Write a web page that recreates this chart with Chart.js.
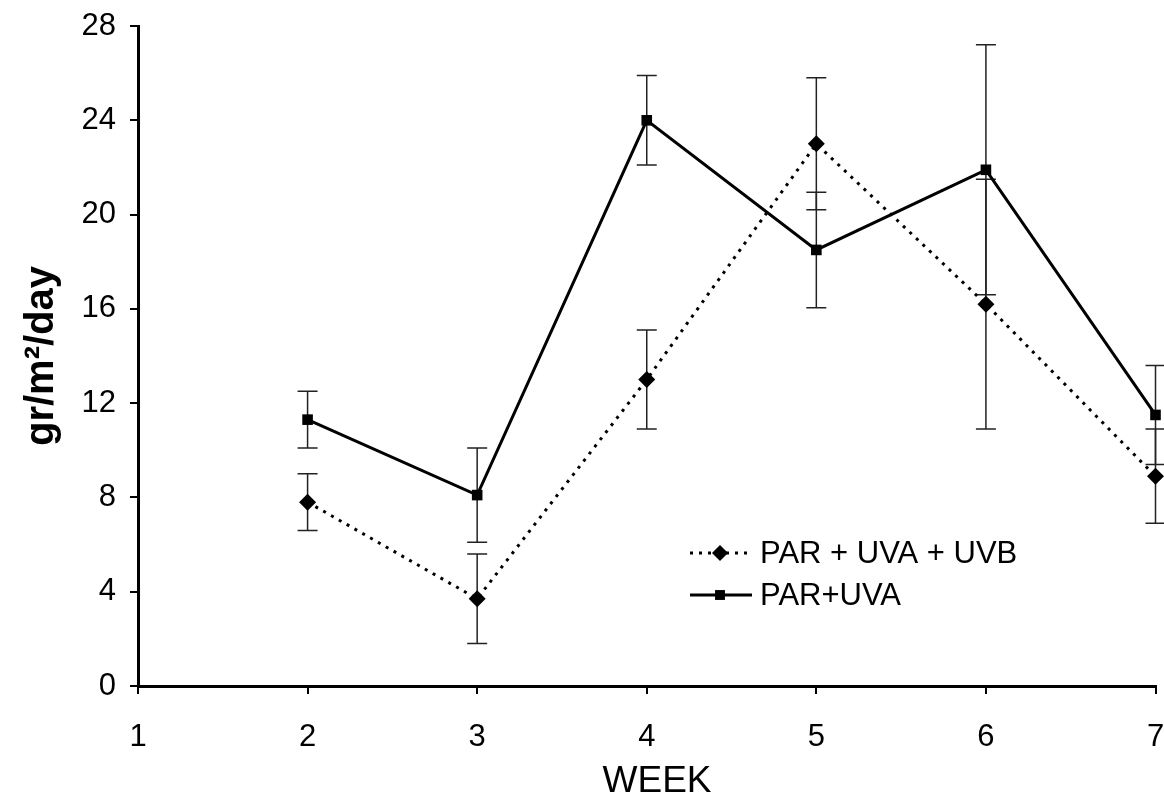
<!DOCTYPE html>
<html>
<head>
<meta charset="utf-8">
<script src="https://cdn.jsdelivr.net/npm/chart.js@4"></script>
<style>
html, body { margin: 0; padding: 0; background: #fff; }
</style>
</head>
<body>
<canvas id="myChart" width="1164" height="800"></canvas>
<script>
// weeks on the x axis
const weeks = [2, 3, 4, 5, 6, 7];
// PAR + UVA + UVB (dotted, diamonds)
const uvbMean = [7.8, 3.7, 13.0, 23.0, 16.2, 8.9];
const uvbErr = [1.2, 1.9, 2.1, 2.8, 5.3, 2.0];
// PAR+UVA (solid, squares)
const uvaMean = [11.3, 8.1, 24.0, 18.5, 21.9, 11.5];
const uvaErr = [1.2, 2.0, 1.9, 2.45, 5.3, 2.1];
const xTicks = [1, 2, 3, 4, 5, 6, 7];
const yTicks = [0, 4, 8, 12, 16, 20, 24, 28];

const toPoints = (m) => weeks.map((w, i) => ({ x: w, y: m[i] }));
const family = '"Liberation Sans", Arial, sans-serif';

/* error bars drawn through the scales */
const errorBars = {
  id: 'errorBars',
  beforeDatasetsDraw(chart) {
    const ctx = chart.ctx, xs = chart.scales.x, ys = chart.scales.y;
    ctx.save();
    ctx.strokeStyle = '#222';
    ctx.lineWidth = 1.5;
    [[uvbMean, uvbErr], [uvaMean, uvaErr]].forEach(([m, e]) => {
      weeks.forEach((w, i) => {
        const px = xs.getPixelForValue(w);
        const top = ys.getPixelForValue(m[i] + e[i]);
        const bot = ys.getPixelForValue(m[i] - e[i]);
        ctx.beginPath();
        ctx.moveTo(px, top); ctx.lineTo(px, bot);
        ctx.moveTo(px - 10, top); ctx.lineTo(px + 10, top);
        ctx.moveTo(px - 10, bot); ctx.lineTo(px + 10, bot);
        ctx.stroke();
      });
    });
    ctx.restore();
  }
};

/* legend sitting inside the plot */
const innerLegend = {
  id: 'innerLegend',
  afterDraw(chart) {
    const ctx = chart.ctx;
    const rows = [
      { text: 'PAR + UVA + UVB', dash: [3, 6], style: 'rectRot', r: 8, y: 553 },
      { text: 'PAR+UVA', dash: [], style: 'rect', r: 7, y: 595 }
    ];
    ctx.save();
    rows.forEach(row => {
      ctx.strokeStyle = '#000';
      ctx.lineWidth = 3;
      ctx.setLineDash(row.dash);
      ctx.beginPath();
      ctx.moveTo(690, row.y); ctx.lineTo(752, row.y);
      ctx.stroke();
      ctx.setLineDash([]);
      ctx.fillStyle = '#000';
      Chart.helpers.drawPoint(ctx, { pointStyle: row.style, radius: row.r, borderWidth: 0 }, 720, row.y);
      ctx.font = '31px ' + family;
      ctx.textBaseline = 'middle';
      ctx.textAlign = 'left';
      ctx.fillText(row.text, 760, row.y + 1);
    });
    ctx.restore();
  }
};

const tickFont = { family: family, size: 31 };

new Chart(document.getElementById('myChart'), {
  type: 'line',
  data: {
    datasets: [
      {
        label: 'PAR + UVA + UVB',
        data: toPoints(uvbMean),
        borderColor: '#000',
        backgroundColor: '#000',
        borderWidth: 3,
        borderDash: [3, 6],
        pointStyle: 'rectRot',
        pointRadius: 8.5,
        pointBorderWidth: 0,
        clip: false
      },
      {
        label: 'PAR+UVA',
        data: toPoints(uvaMean),
        borderColor: '#000',
        backgroundColor: '#000',
        borderWidth: 3,
        pointStyle: 'rect',
        pointRadius: 7.5,
        pointBorderWidth: 0,
        clip: false
      }
    ]
  },
  options: {
    responsive: false,
    animation: false,
    layout: { padding: { top: 26, right: 6, left: 0, bottom: 0 } },
    plugins: {
      legend: { display: false },
      tooltip: { enabled: false }
    },
    scales: {
      x: {
        type: 'linear',
        min: 1,
        max: 7,
        afterBuildTicks: (s) => { s.ticks = xTicks.map(v => ({ value: v })); },
        afterFit: (s) => { s.height = 114; s.paddingRight = 0; s.paddingLeft = 0; },
        ticks: { color: '#000', font: tickFont, padding: 25, maxRotation: 0 },
        grid: { drawOnChartArea: false, drawTicks: true, tickLength: 8, color: '#000', lineWidth: 2 },
        border: { color: '#000', width: 3 },
        title: {
          display: true, text: '  WEEK', color: '#000',
          font: { family: family, size: 37 },
          padding: { top: 0, bottom: -4 }
        }
      },
      y: {
        min: 0,
        max: 28,
        afterBuildTicks: (s) => { s.ticks = yTicks.map(v => ({ value: v })); },
        afterFit: (s) => { s.width = 138; s.paddingTop = 0; s.paddingBottom = 0; },
        ticks: { color: '#000', font: tickFont, padding: 14 },
        grid: { drawOnChartArea: false, drawTicks: true, tickLength: 8, color: '#000', lineWidth: 2 },
        border: { color: '#000', width: 3 },
        title: {
          display: true, text: 'gr/m²/day', color: '#000',
          font: { family: family, size: 40, weight: 'bold' },
          padding: { top: 18, bottom: 0 }
        }
      }
    }
  },
  plugins: [errorBars, innerLegend]
});
</script>
</body>
</html>
